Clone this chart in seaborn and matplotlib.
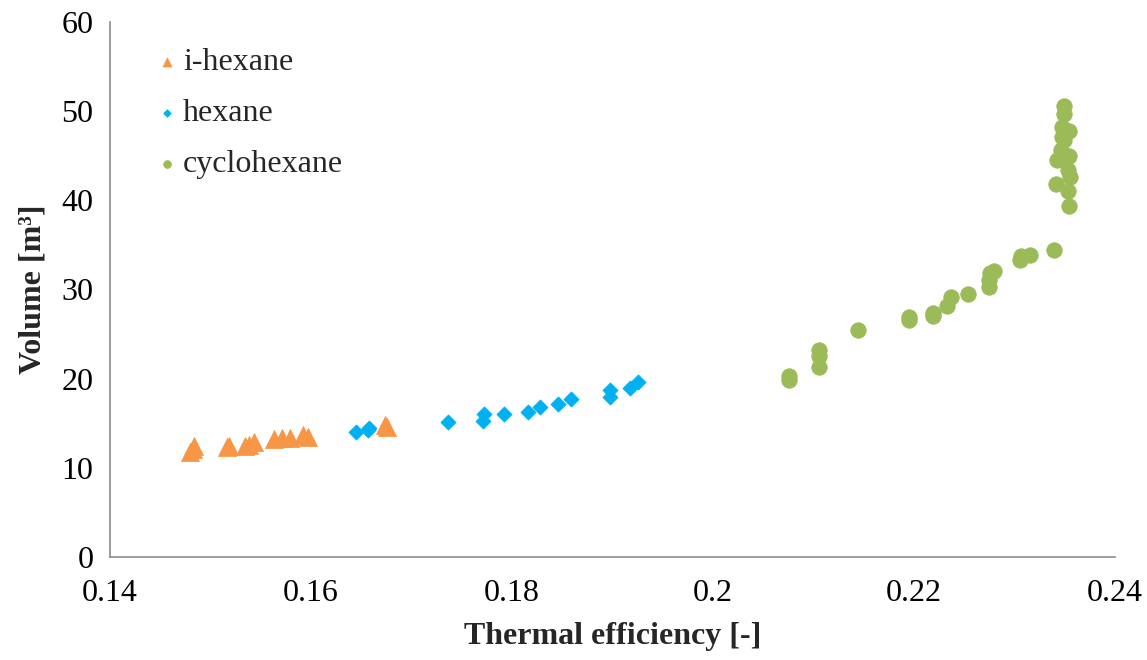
import numpy as np
import pandas as pd
import matplotlib
matplotlib.use("Agg")
import matplotlib.pyplot as plt
import seaborn as sns

# data
ihexane_eff = [0.1480, 0.1482, 0.1483, 0.1516, 0.1518, 0.1534, 0.1538, 0.1543,
               0.1563, 0.1571, 0.1579, 0.1592, 0.1597, 0.1674, 0.1676]
ihexane_vol = [11.8, 12.1, 12.4, 12.3, 12.5, 12.4, 12.6, 12.9,
               13.2, 13.3, 13.3, 13.7, 13.5, 14.8, 14.6]

hexane_eff = [0.1645, 0.1657, 0.1658, 0.1736, 0.1771, 0.1772, 0.1792, 0.1816,
              0.1828, 0.1846, 0.1859, 0.1898, 0.1898, 0.1917, 0.1925]
hexane_vol = [14.0, 14.2, 14.5, 15.1, 15.3, 16.0, 16.0, 16.3,
              16.8, 17.2, 17.7, 17.9, 18.7, 18.9, 19.6]

cyclo_eff = [0.2076, 0.2076, 0.2106, 0.2106, 0.2106, 0.2144, 0.2195, 0.2195,
             0.2219, 0.2219, 0.2233, 0.2237, 0.2254, 0.2275, 0.2275, 0.2276,
             0.2280, 0.2306, 0.2307, 0.2316, 0.2339, 0.2349, 0.2349, 0.2347,
             0.2354, 0.2347, 0.2349, 0.2346, 0.2342, 0.2354, 0.2353, 0.2355,
             0.2341, 0.2353, 0.2354]
cyclo_vol = [19.8, 20.3, 21.3, 22.5, 23.2, 25.4, 26.6, 26.9,
             27.0, 27.4, 28.1, 29.1, 29.5, 30.3, 31.0, 31.8,
             32.1, 33.3, 33.7, 33.9, 34.4, 50.6, 49.7, 48.2,
             47.8, 47.1, 46.7, 45.6, 44.5, 45.0, 43.4, 42.6,
             41.8, 41.0, 39.3]

series_names = ["i-hexane", "hexane", "cyclohexane"]
colors = ["#F79646", "#00B0F0", "#9BBB59"]
markers = ["^", "D", "o"]
sizes = [170, 60, 125]

sns.set_style("white")
plt.rcParams["font.family"] = ["Liberation Serif", "DejaVu Serif"]

fig = plt.figure(figsize=(11.47, 6.6), dpi=100)
ax = fig.add_axes([0.096, 0.156, 0.876, 0.811])

all_data = [(ihexane_eff, ihexane_vol), (hexane_eff, hexane_vol), (cyclo_eff, cyclo_vol)]
for (xs, ys), name, c, m, s in zip(all_data, series_names, colors, markers, sizes):
    df = pd.DataFrame({"eff": xs, "vol": ys})
    sns.scatterplot(data=df, x="eff", y="vol", ax=ax, color=c, marker=m, s=s,
                    edgecolor=c, linewidth=0.5, label=name)

ax.set_xlim(0.14, 0.24)
ax.set_ylim(0, 60)
ax.set_xticks(np.arange(0.14, 0.2401, 0.02))
ax.set_xticklabels(["0.14", "0.16", "0.18", "0.2", "0.22", "0.24"])
ax.set_yticks(np.arange(0, 61, 10))

for side in ["top", "right"]:
    ax.spines[side].set_visible(False)
for side in ["left", "bottom"]:
    ax.spines[side].set_color("#8c8c8c")
    ax.spines[side].set_linewidth(1.2)
ax.tick_params(axis="both", direction="out", length=6, width=1.2, color="#8c8c8c",
               labelsize=23, labelcolor="black", pad=6)
ax.tick_params(axis="x", pad=10)

ax.set_xlabel("Thermal efficiency [-]", fontsize=23, fontweight="bold", labelpad=10)
ax.set_ylabel("Volume [m³]", fontsize=23, fontweight="bold", labelpad=10)

leg = ax.legend(loc="upper left", bbox_to_anchor=(0.028, 0.975), frameon=False,
                fontsize=23, labelspacing=0.68, handletextpad=0.0, handlelength=1.0,
                markerscale=0.5, borderaxespad=0)

fig.savefig("out.png", dpi=100)
